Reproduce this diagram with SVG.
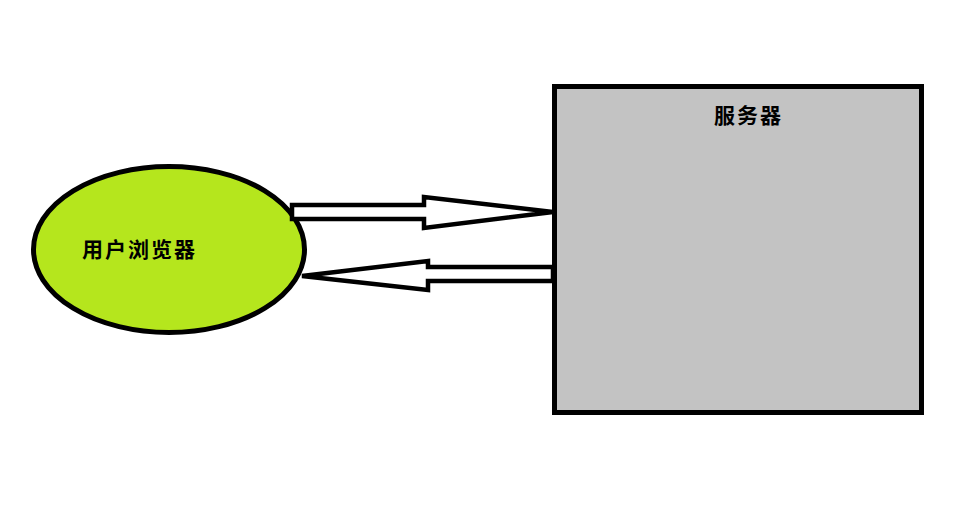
<svg xmlns="http://www.w3.org/2000/svg" width="964" height="510" viewBox="0 0 964 510">
<style>
.shape{stroke:#000;stroke-width:5}
.lbl{font-family:"Noto Sans CJK SC","Liberation Sans",sans-serif;font-size:21px;font-weight:bold;fill:#000;letter-spacing:2px}
.arrow{fill:#fff;stroke:#000;stroke-width:4.5;stroke-linejoin:miter}
</style>
<rect width="964" height="510" fill="#fff"/>
<g id="browser">
<ellipse class="shape" cx="169" cy="249.5" rx="135.5" ry="83" fill="#b5e61d"/>
<text class="lbl" x="82" y="248" dominant-baseline="central">用户浏览器</text>
</g>
<g id="server">
<rect class="shape" x="554.5" y="86.5" width="367" height="326" fill="#c3c3c3"/>
<text class="lbl" x="714" y="114" dominant-baseline="central">服务器</text>
</g>
<g id="connectors">
<polygon class="arrow" points="292,205 424,205 424,197 553,212 424,228 424,219 292,219"/>
<polygon class="arrow" points="302,276 428,261 428,267 553,267 553,281 428,281 428,290"/>
</g>
</svg>
